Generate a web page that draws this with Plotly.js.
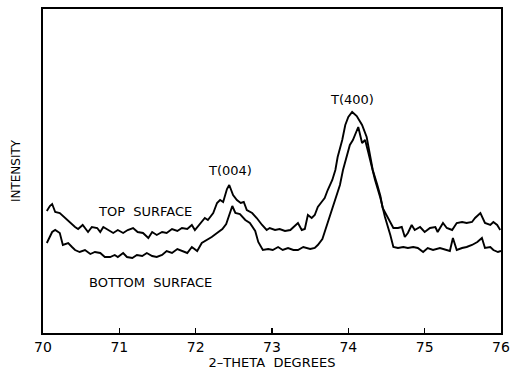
<!DOCTYPE html>
<html>
<head>
<meta charset="utf-8">
<script src="https://cdn.plot.ly/plotly-3.0.1.min.js"></script>
<style>html,body{margin:0;padding:0;background:#fff;}#chart{width:510px;height:372px;}</style>
</head>
<body>
<div id="chart"></div>
<script>
// 2-theta (degrees) and intensity (arbitrary units)
var topTheta = [70.05,70.09,70.12,70.16,70.22,70.29,70.35,70.42,70.46,70.52,70.59,70.64,70.71,70.75,70.79,70.85,70.92,70.98,71.05,71.11,71.18,71.24,71.31,71.38,71.43,71.49,71.56,71.62,71.69,71.76,71.82,71.89,71.95,71.99,72.06,72.12,72.16,72.23,72.28,72.32,72.36,72.41,72.44,72.49,72.54,72.59,72.63,72.67,72.74,72.80,72.87,72.93,72.97,73.04,73.10,73.17,73.24,73.28,73.34,73.39,73.43,73.47,73.52,73.56,73.60,73.66,73.69,73.73,73.79,73.83,73.86,73.92,73.96,74.00,74.05,74.11,74.18,74.24,74.28,74.32,74.38,74.42,74.45,74.49,74.53,74.59,74.65,74.70,74.74,74.78,74.83,74.87,74.94,75.00,75.07,75.14,75.17,75.24,75.29,75.36,75.42,75.49,75.55,75.62,75.66,75.73,75.79,75.86,75.90,75.95,75.99];
var topIntensity = [122,127,129,121,120,115,111,106,104,108,101,106,105,101,106,103,100,103,100,103,105,101,100,95,101,98,101,100,104,102,105,104,108,103,110,115,113,120,130,133,131,144,148,138,133,130,131,123,120,115,108,103,105,103,104,102,103,106,110,103,104,118,115,118,126,132,135,143,153,163,176,193,208,216,221,217,208,196,181,163,148,137,125,119,113,105,105,106,96,100,108,103,106,101,105,106,101,110,105,103,110,111,110,111,115,120,110,108,111,108,103];

var bottomTheta = [70.05,70.12,70.16,70.22,70.26,70.33,70.38,70.42,70.48,70.55,70.62,70.68,70.75,70.81,70.88,70.94,70.98,71.05,71.10,71.17,71.23,71.30,71.36,71.43,71.49,71.56,71.62,71.69,71.76,71.82,71.89,71.95,72.02,72.08,72.15,72.21,72.28,72.35,72.40,72.44,72.48,72.52,72.58,72.65,72.71,72.78,72.82,72.88,72.95,73.01,73.08,73.14,73.21,73.28,73.34,73.41,73.50,73.56,73.60,73.66,73.69,73.73,73.77,73.83,73.89,73.93,73.98,74.02,74.06,74.10,74.13,74.18,74.22,74.26,74.31,74.35,74.42,74.48,74.55,74.59,74.65,74.72,74.78,74.85,74.91,74.98,75.04,75.11,75.20,75.27,75.33,75.37,75.42,75.49,75.55,75.62,75.69,75.75,75.79,75.86,75.90,75.96,76.00];
var bottomIntensity = [90,101,103,100,88,90,86,83,81,83,79,81,80,76,76,78,76,80,76,75,78,77,80,77,76,78,82,80,84,82,80,86,82,90,93,96,100,104,109,117,127,120,119,113,110,102,91,83,84,83,86,83,85,83,83,86,84,85,88,94,101,111,120,133,148,163,178,188,193,201,206,190,193,181,165,153,135,116,98,86,85,86,85,86,85,81,85,83,85,83,82,95,83,85,86,88,91,95,85,86,83,81,82];

var xTicks = [70,71,72,73,74,75,76];
var labels = ["TOP  SURFACE","BOTTOM  SURFACE","T(004)","T(400)"];

var font = "DejaVu Sans, Liberation Sans, sans-serif";
var line = {color:"#000", width:1.9};

var traces = [
  {x: topTheta, y: topIntensity, mode:"lines", line: line, hoverinfo:"skip"},
  {x: bottomTheta, y: bottomIntensity, mode:"lines", line: line, hoverinfo:"skip"}
];

var layout = {
  width:510, height:372,
  margin:{l:43, r:9, t:9, b:39},
  paper_bgcolor:"#fff", plot_bgcolor:"#fff",
  showlegend:false,
  font:{family:font, color:"#000", size:13},
  xaxis:{
    range:[70,76], tickvals:xTicks, ticktext:xTicks.map(String),
    ticks:"inside", ticklen:5, tickwidth:1.5, tickcolor:"#000",
    showline:true, mirror:true, linecolor:"#000", linewidth:1.8,
    showgrid:false, zeroline:false,
    tickfont:{family:font, size:14},
    title:{text:"2\u2013THETA  DEGREES", font:{family:font, size:13}, standoff:1}
  },
  yaxis:{
    range:[0,324], showticklabels:false, ticks:"",
    showline:true, mirror:true, linecolor:"#000", linewidth:1.8,
    showgrid:false, zeroline:false,
    title:{text:"INTENSITY", font:{family:font, size:12}, standoff:18}
  },
  annotations:[
    {x:71.34, y:122, xref:"x", yref:"y", text:labels[0], showarrow:false, font:{family:font, size:13}},
    {x:71.41, y:51, xref:"x", yref:"y", text:labels[1], showarrow:false, font:{family:font, size:13}},
    {x:72.45, y:163, xref:"x", yref:"y", text:labels[2], showarrow:false, font:{family:font, size:13}},
    {x:74.05, y:234, xref:"x", yref:"y", text:labels[3], showarrow:false, font:{family:font, size:13}}
  ]
};

Plotly.newPlot("chart", traces, layout, {staticPlot:true, displayModeBar:false});
</script>
</body>
</html>
